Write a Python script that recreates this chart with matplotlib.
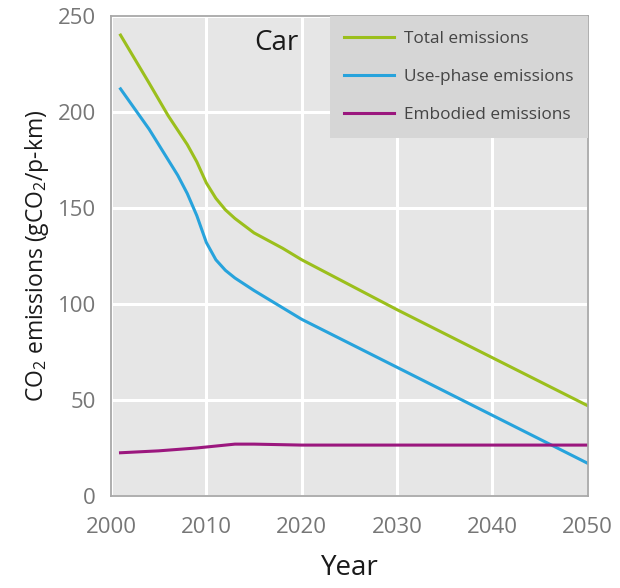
import matplotlib.pyplot as plt

plt.rcParams['font.family'] = ['Open Sans', 'DejaVu Sans']
plt.rcParams['mathtext.default'] = 'regular'

# Total emissions
years_total = [2001, 2004, 2006, 2008, 2009, 2010, 2011, 2012, 2013, 2015, 2018, 2020, 2030, 2040, 2050]
total = [240, 215, 198, 183, 174, 163, 155, 149, 144.5, 137, 129, 123, 97, 72, 47]

# Use-phase emissions
years_use = [2001, 2004, 2006, 2007, 2008, 2009, 2010, 2011, 2012, 2013, 2015, 2018, 2020, 2030, 2040, 2050]
use_phase = [212, 191, 175, 167, 157.5, 146, 132, 123, 117.5, 113.5, 107, 98, 92, 67, 42, 17]

# Embodied emissions
years_emb = [2001, 2005, 2009, 2011, 2013, 2015, 2020, 2030, 2040, 2050]
embodied = [22.5, 23.5, 25, 26, 27, 27, 26.5, 26.5, 26.5, 26.5]

fig = plt.figure(figsize=(6.2, 5.88), dpi=100)
ax = fig.add_axes([0.179, 0.1565, 0.769, 0.8165])
ax.set_facecolor('#e6e6e6')

ax.plot(years_total, total, color='#9bbf1c', linewidth=2.2, label='Total emissions')
ax.plot(years_use, use_phase, color='#27a3dc', linewidth=2.2, label='Use-phase emissions')
ax.plot(years_emb, embodied, color='#9b177e', linewidth=2.2, label='Embodied emissions')

ax.set_xlim(2000, 2050)
ax.set_ylim(0, 250)
ax.set_xticks(range(2000, 2051, 10))
ax.set_yticks(range(0, 251, 50))
ax.grid(color='white', linewidth=2.2)
ax.set_axisbelow(True)
ax.tick_params(length=0, labelsize=16, labelcolor='#767676')
ax.tick_params(axis='x', pad=15)
ax.tick_params(axis='y', pad=11)
for s in ax.spines.values():
    s.set_color('#a8a8a8')
    s.set_linewidth(1.3)

ax.text(2015, 236, 'Car', fontsize=20, color='#1a1a1a', va='center')

ax.set_xlabel('Year', fontsize=20, color='#1a1a1a', labelpad=12)
ax.set_ylabel('CO$_2$ emissions (gCO$_2$/p-km)', fontsize=16.5, color='#1a1a1a', labelpad=5)

leg = ax.legend(loc='upper right', borderaxespad=0, fontsize=12.4, frameon=True,
                fancybox=False, framealpha=1, facecolor='#d6d6d6', edgecolor='none',
                handlelength=2.9, handletextpad=0.55, labelspacing=1.3,
                borderpad=0.85)
for t in leg.get_texts():
    t.set_color('#444444')

fig.savefig('out.png', dpi=100)
